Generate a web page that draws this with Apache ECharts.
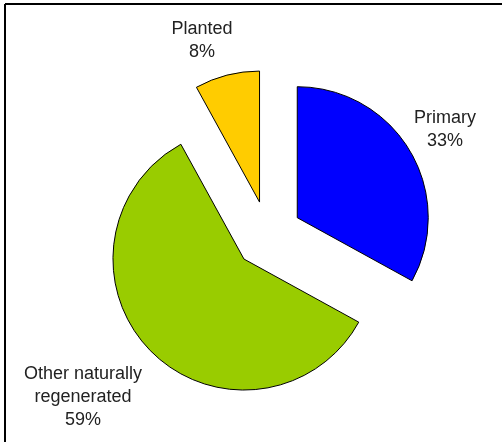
<!DOCTYPE html>
<html>
<head>
<meta charset="utf-8">
<script src="https://cdn.jsdelivr.net/npm/echarts@6/dist/echarts.min.js"></script>
<style>
  html, body { margin: 0; padding: 0; background: #fff; }
  #chart { width: 502px; height: 442px; }
</style>
</head>
<body>
<div id="chart"></div>
<script>
// Forest area by type (%)
const categories = ['Primary', 'Other naturally\nregenerated', 'Planted'];
const shares = [33, 59, 8];
const sliceColors = ['#0000FF', '#99CC00', '#FFCC00'];

// Label anchor points (px), one per slice
const labelAnchors = [[445, 130], [83, 397], [202, 41]];

const chart = echarts.init(document.getElementById('chart'), null, { renderer: 'canvas' });

const pieBase = {
  type: 'pie',
  center: [268, 235],
  radius: 131,
  startAngle: 90,
  clockwise: true,
  emphasis: { disabled: true }
};

chart.setOption({
  backgroundColor: '#ffffff',
  animation: false,
  graphic: [
    { type: 'line', shape: { x1: 5, y1: 4, x2: 502, y2: 4 }, style: { stroke: '#000', lineWidth: 2 } },
    { type: 'line', shape: { x1: 5, y1: 4, x2: 5, y2: 442 }, style: { stroke: '#000', lineWidth: 2 } }
  ],
  series: [
    // exploded slices
    Object.assign({}, pieBase, {
      selectedMode: 'multiple',
      selectedOffset: 34,
      itemStyle: { borderColor: '#000', borderWidth: 1 },
      label: { show: false },
      labelLine: { show: false },
      data: categories.map((name, i) => ({
        name: name,
        value: shares[i],
        selected: true,
        itemStyle: { color: sliceColors[i] }
      }))
    }),
    // category / share labels
    Object.assign({}, pieBase, {
      silent: true,
      z: 3,
      itemStyle: { color: 'rgba(0,0,0,0)', borderWidth: 0 },
      label: {
        show: true,
        position: 'outside',
        formatter: p => p.name + '\n' + p.value + '%',
        fontFamily: 'Liberation Sans, Arial, sans-serif',
        fontSize: 18,
        lineHeight: 23,
        color: '#222',
        align: 'center'
      },
      labelLine: { show: false },
      labelLayout: p => ({
        x: labelAnchors[p.dataIndex][0],
        y: labelAnchors[p.dataIndex][1],
        align: 'center',
        verticalAlign: 'middle'
      }),
      data: categories.map((name, i) => ({ name: name, value: shares[i] }))
    })
  ]
});
</script>
</body>
</html>
